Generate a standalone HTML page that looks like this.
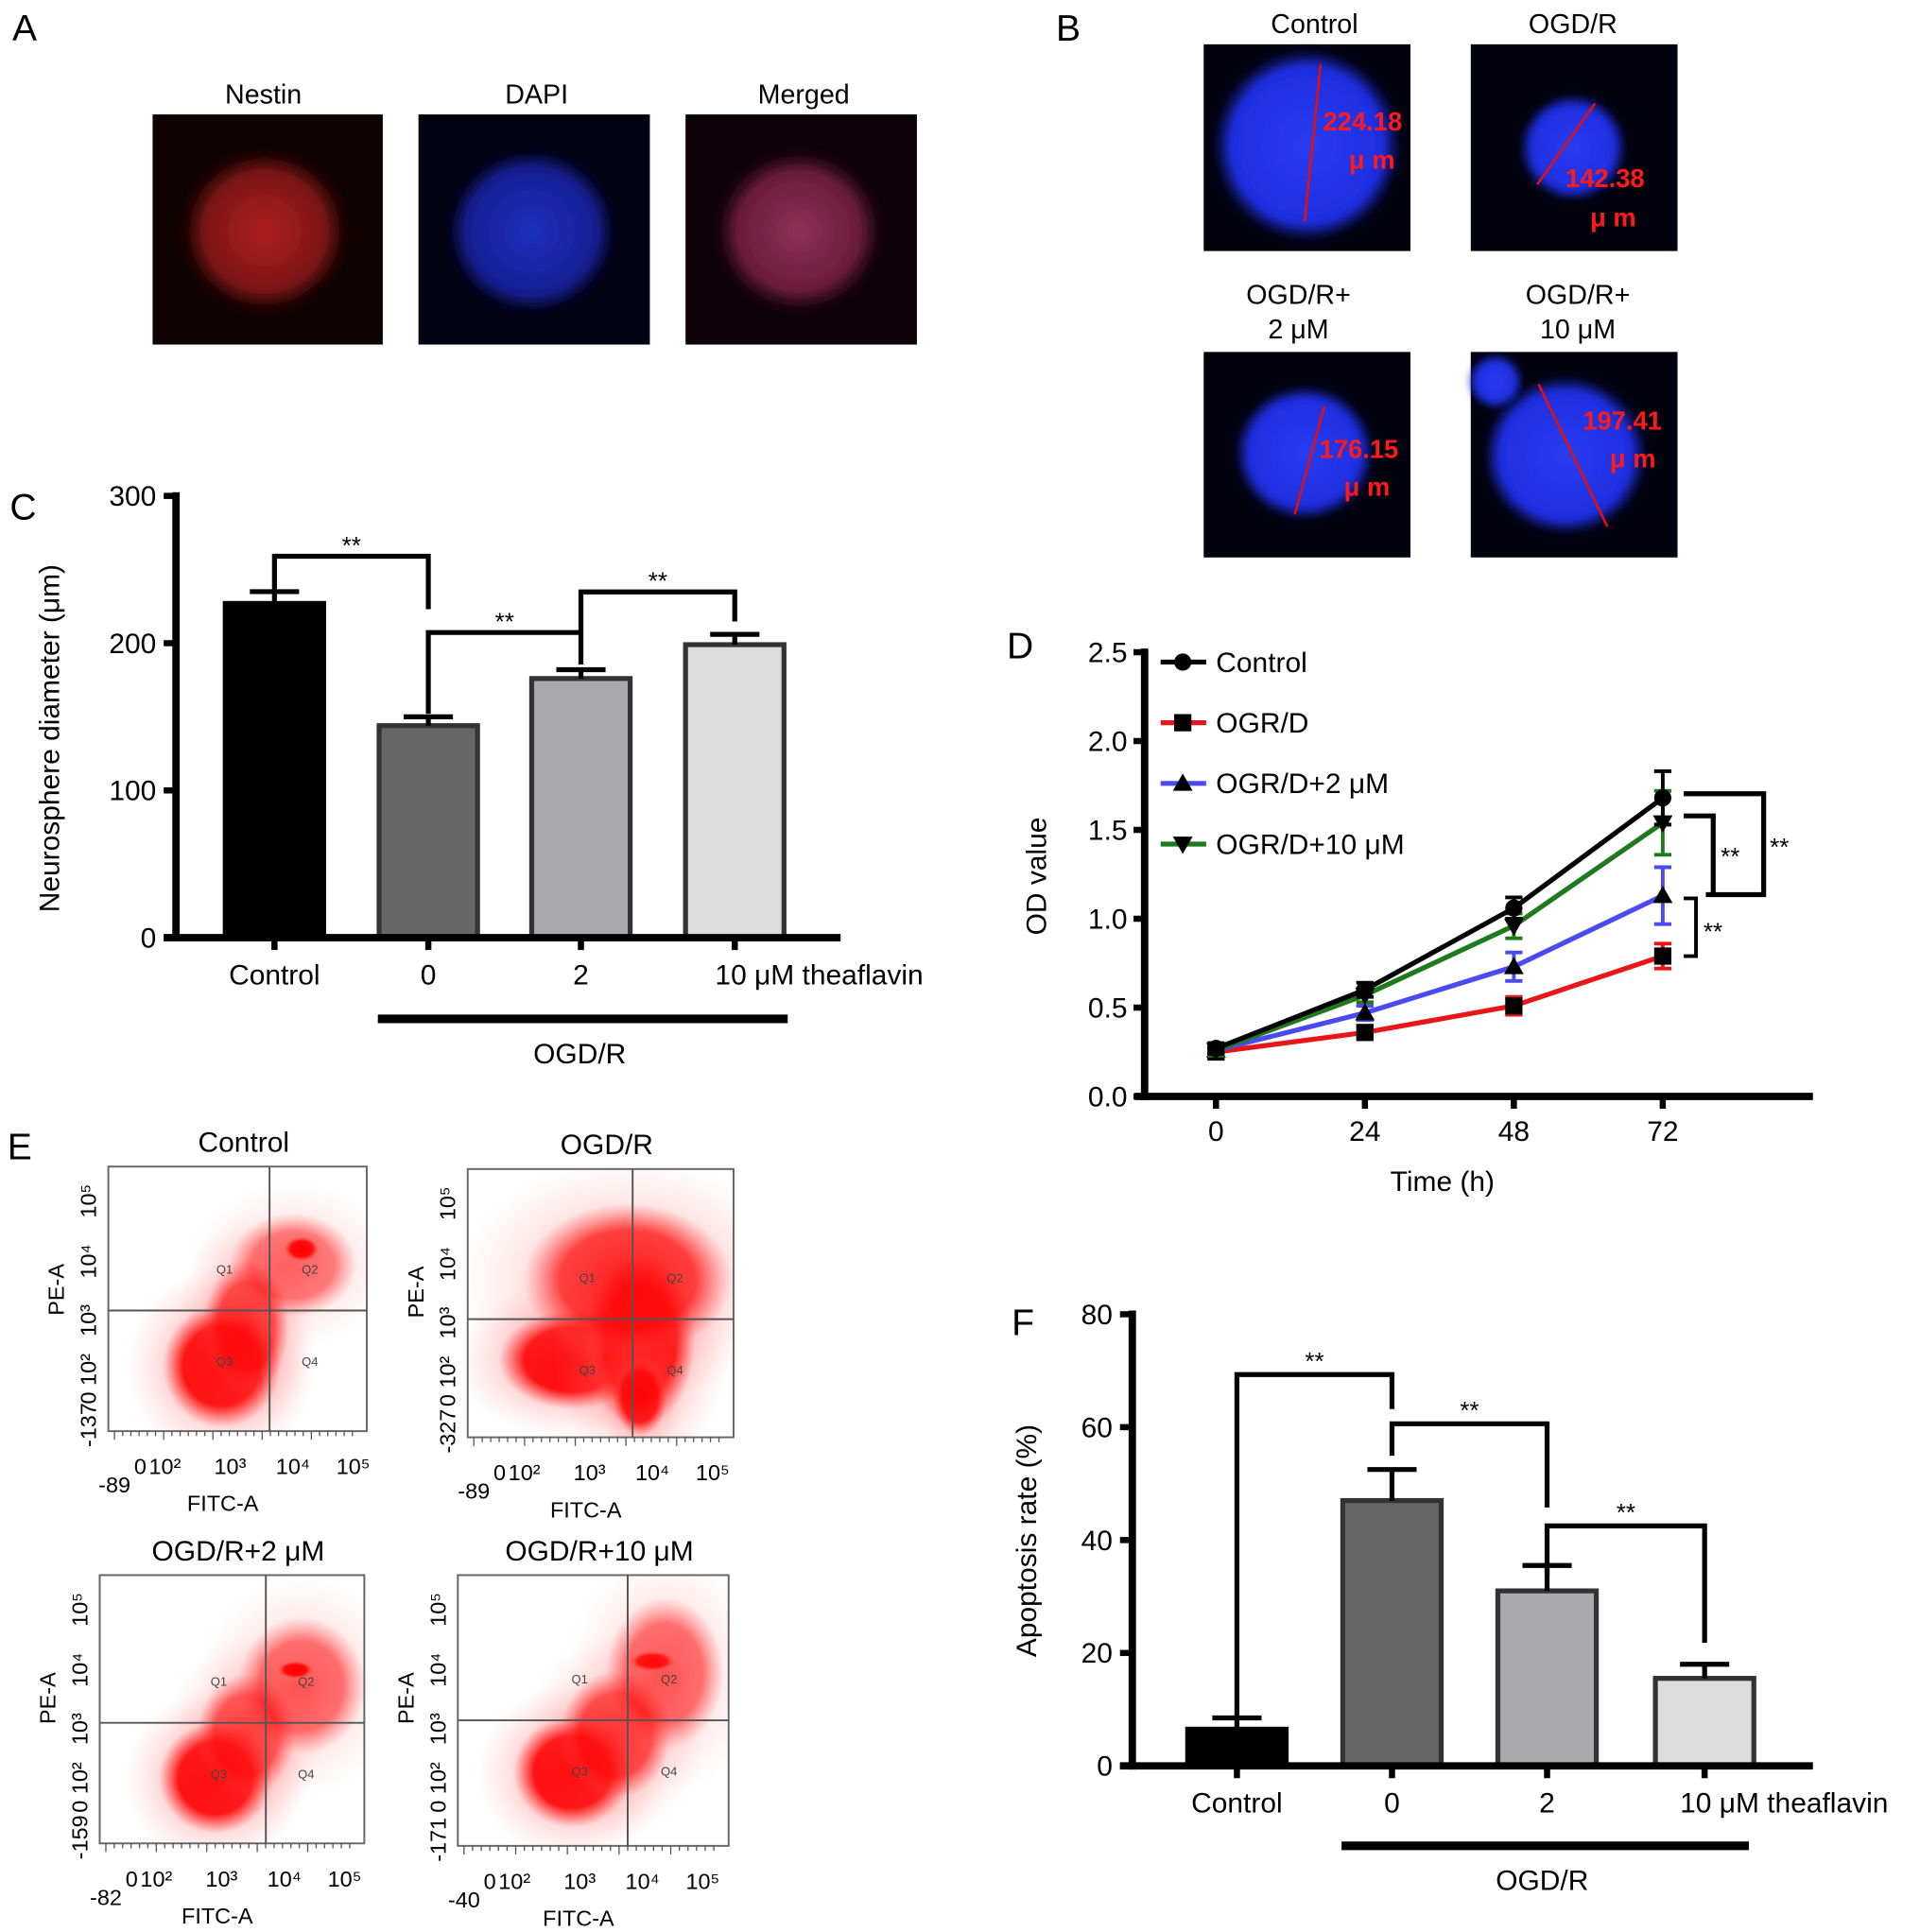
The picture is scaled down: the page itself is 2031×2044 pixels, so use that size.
<!DOCTYPE html>
<html><head><meta charset="utf-8"><style>
html,body{margin:0;padding:0;background:#fff;}
svg{display:block;font-family:"Liberation Sans",Arial,sans-serif;}
</style></head><body>
<svg id="fig" width="2031" height="2044" viewBox="0 0 1560 1570" xmlns="http://www.w3.org/2000/svg">
<defs>
<filter id="blur3"><feGaussianBlur stdDeviation="3"/></filter>
<radialGradient id="redblob"><stop offset="0" stop-color="#b02020"/><stop offset="0.7" stop-color="#7a1515"/><stop offset="1" stop-color="#200404" stop-opacity="0"/></radialGradient>
<radialGradient id="blueblob"><stop offset="0" stop-color="#2030c0"/><stop offset="0.75" stop-color="#161e90"/><stop offset="1" stop-color="#05052a" stop-opacity="0"/></radialGradient>
<radialGradient id="mergeblob"><stop offset="0" stop-color="#903058"/><stop offset="0.7" stop-color="#6a1c38"/><stop offset="1" stop-color="#200410" stop-opacity="0"/></radialGradient>
<radialGradient id="bblue"><stop offset="0" stop-color="#2a3cf0"/><stop offset="0.8" stop-color="#1e2ee0"/><stop offset="1" stop-color="#0a1060" stop-opacity="0"/></radialGradient>
<radialGradient id="flowdense"><stop offset="0" stop-color="#ff0000"/><stop offset="0.65" stop-color="#ff0808" stop-opacity="0.95"/><stop offset="1" stop-color="#ff4040" stop-opacity="0"/></radialGradient>
<radialGradient id="flowsparse"><stop offset="0" stop-color="#ff3030" stop-opacity="0.6"/><stop offset="1" stop-color="#ff8080" stop-opacity="0"/></radialGradient>
</defs>

<!-- Panel A -->
<text x="10" y="33" font-size="30">A</text>
<g>
<rect x="124" y="93" width="187" height="187" fill="#0e0202"/>
<ellipse cx="215" cy="188" rx="72" ry="70" fill="url(#redblob)" filter="url(#blur3)"/>
</g>
<g>
<rect x="340" y="93" width="188" height="187" fill="#020210"/>
<ellipse cx="432" cy="188" rx="72" ry="70" fill="url(#blueblob)" filter="url(#blur3)"/>
</g>
<g>
<rect x="557" y="93" width="188" height="187" fill="#0c0208"/>
<ellipse cx="649" cy="188" rx="72" ry="70" fill="url(#mergeblob)" filter="url(#blur3)"/>
</g>
<text x="214" y="84" font-size="22" text-anchor="middle">Nestin</text>
<text x="436" y="84" font-size="22" text-anchor="middle">DAPI</text>
<text x="653" y="84" font-size="22" text-anchor="middle">Merged</text>

<!-- Panel B -->
<text x="858" y="33" font-size="30">B</text>
<text x="1068" y="27" font-size="22" text-anchor="middle">Control</text>
<text x="1278" y="27" font-size="22" text-anchor="middle">OGD/R</text>
<text x="1055" y="247" font-size="22" text-anchor="middle">OGD/R+</text>
<text x="1055" y="275" font-size="22" text-anchor="middle">2 μM</text>
<text x="1282" y="247" font-size="22" text-anchor="middle">OGD/R+</text>
<text x="1282" y="275" font-size="22" text-anchor="middle">10 μM</text>
<g>
<rect x="978" y="36" width="168" height="168" fill="#02020e"/>
<ellipse cx="1062" cy="118" rx="78" ry="80" fill="url(#bblue)" filter="url(#blur3)"/>
<line x1="1073" y1="52" x2="1060" y2="180" stroke="#e01010" stroke-width="2"/>
<text x="1075" y="106" font-size="21" font-weight="bold" fill="#ff1a1a">224.18</text>
<text x="1096" y="137" font-size="21" font-weight="bold" fill="#ff1a1a">μ m</text>
</g>
<g>
<rect x="1195" y="36" width="168" height="168" fill="#02020e"/>
<ellipse cx="1278" cy="120" rx="44" ry="44" fill="url(#bblue)" filter="url(#blur3)"/>
<line x1="1296" y1="84" x2="1249" y2="150" stroke="#e01010" stroke-width="2"/>
<text x="1272" y="152" font-size="21" font-weight="bold" fill="#ff1a1a">142.38</text>
<text x="1292" y="184" font-size="21" font-weight="bold" fill="#ff1a1a">μ m</text>
</g>
<g>
<rect x="978" y="286" width="168" height="167" fill="#02020e"/>
<ellipse cx="1060" cy="368" rx="58" ry="56" fill="url(#bblue)" filter="url(#blur3)"/>
<line x1="1076" y1="330" x2="1052" y2="418" stroke="#e01010" stroke-width="2"/>
<text x="1072" y="372" font-size="21" font-weight="bold" fill="#ff1a1a">176.15</text>
<text x="1092" y="403" font-size="21" font-weight="bold" fill="#ff1a1a">μ m</text>
</g>
<g>
<rect x="1195" y="286" width="168" height="167" fill="#02020e"/>
<ellipse cx="1272" cy="370" rx="68" ry="66" fill="url(#bblue)" filter="url(#blur3)"/>
<ellipse cx="1215" cy="310" rx="22" ry="22" fill="url(#bblue)" filter="url(#blur3)"/>
<line x1="1250" y1="312" x2="1306" y2="428" stroke="#e01010" stroke-width="2"/>
<text x="1286" y="349" font-size="21" font-weight="bold" fill="#ff1a1a">197.41</text>
<text x="1308" y="380" font-size="21" font-weight="bold" fill="#ff1a1a">μ m</text>
</g>

<!-- Panel C -->
<text x="8" y="422" font-size="30">C</text>
<g id="chartC"></g>
<!-- Panel D -->
<text x="818" y="535" font-size="30">D</text>
<g id="chartD"></g>
<!-- Panel F -->
<text x="822" y="1085" font-size="30">F</text>
<g id="chartF"></g>

<!-- Panel E -->
<text x="6" y="942" font-size="30">E</text>
<g id="panelE"></g>
</svg>

<script>
var NS="http://www.w3.org/2000/svg";
function mk(parent,tag,attrs,text){var e=document.createElementNS(NS,tag);for(var k in attrs)e.setAttribute(k,attrs[k]);if(text!==undefined)e.textContent=text;parent.appendChild(e);return e;}

// ---------- Chart C data ----------
var cCategories=["Control","0","2","10 μM theaflavin"];
var cValues=[227,144,176,199];
var cErrors=[8,6,6,7];
var cTicks=[0,100,200,300];
var cFills=["#000000","#666666","#a9a9ae","#dcdcdc"];

// ---------- Chart D data ----------
var dTimes=[0,24,48,72];
var dSeriesNames=["Control","OGR/D","OGR/D+2 μM","OGR/D+10 μM"];
var dControl=[0.27,0.60,1.06,1.68];
var dOGR=[0.25,0.36,0.51,0.79];
var dLow=[0.26,0.47,0.73,1.13];
var dHigh=[0.26,0.57,0.96,1.54];
var dControlErr=[0.03,0.04,0.06,0.15];
var dOGRErr=[0.03,0.03,0.05,0.07];
var dLowErr=[0.03,0.04,0.08,0.16];
var dHighErr=[0.03,0.04,0.07,0.18];
var dTicks=[0.0,0.5,1.0,1.5,2.0,2.5];

// ---------- Chart F data ----------
var fCategories=["Control","0","2","10 μM theaflavin"];
var fValues=[6.5,47,31,15.5];
var fErrors=[2,5.5,4.5,2.5];
var fTicks=[0,20,40,60,80];

// ================= Chart C =================
(function(){
var g=document.getElementById('chartC');
var x0=143,x1=683,yb=762,yt=403,vmax=300;
function y(v){return yb-(v/vmax)*(yb-yt);}
var centers=[223,348,472,597];
var bw=80;
cValues.forEach(function(v,i){
  var r=mk(g,'rect',{x:centers[i]-bw/2,y:y(v),width:bw,height:yb-y(v),fill:cFills[i],stroke:i==0?'#000':'#333','stroke-width':4});
  
  
  var e=mk(g,'path',{d:'M'+centers[i]+' '+y(v)+' V'+y(v+cErrors[i])+' M'+(centers[i]-20)+' '+y(v+cErrors[i])+' H'+(centers[i]+20),stroke:'#000','stroke-width':4,fill:'none'});
  
  
  var t=mk(g,'text',{x:i==3?centers[i]-16:centers[i],y:800,'font-size':23,'text-anchor':i==3?'start':'middle'},cCategories[i]);
  
  
  mk(g,'line',{x1:centers[i],y1:yb,x2:centers[i],y2:yb+10,stroke:'#000','stroke-width':5});
});
mk(g,'line',{x1:x0,y1:yt-3,x2:x0,y2:yb+3,stroke:'#000','stroke-width':6});
mk(g,'line',{x1:x0-10,y1:yb,x2:x1,y2:yb,stroke:'#000','stroke-width':6});
cTicks.forEach(function(t){
  mk(g,'line',{x1:x0-10,y1:y(t),x2:x0,y2:y(t),stroke:'#000','stroke-width':5});
  var tl=mk(g,'text',{x:x0-16,y:y(t)+8,'font-size':23,'text-anchor':'end'},String(t));
  
  
});
var yl=mk(g,'text',{x:0,y:0,'font-size':23,'text-anchor':'middle',transform:'translate(48,600) rotate(-90)'},'Neurosphere diameter (μm)');


mk(g,'line',{x1:307,y1:828,x2:640,y2:828,stroke:'#000','stroke-width':7});
var og=mk(g,'text',{x:471,y:864,'font-size':23,'text-anchor':'middle'},'OGD/R');


var br=[[223,348,452,482,495],[348,472,514,580,540],[472,597,481,513,505]];
br.forEach(function(b,i){
  mk(g,'path',{d:'M'+b[0]+' '+b[3]+' V'+b[2]+' H'+b[1]+' V'+b[4],stroke:'#000','stroke-width':4,fill:'none'});
  var s=mk(g,'text',{x:(b[0]+b[1])/2,y:b[2]-2,'font-size':20,'text-anchor':'middle'},'**');
  
  
});
})();

// ================= Chart D =================
(function(){
var g=document.getElementById('chartD');
var x0=930,x1=1473,yb=891,yt=530,vmax=2.5;
function y(v){return yb-(v/vmax)*(yb-yt);}
function x(t){return 988+t*(1351-988)/72;}
mk(g,'line',{x1:x0,y1:yt-3,x2:x0,y2:yb+3,stroke:'#000','stroke-width':6});
mk(g,'line',{x1:x0-8,y1:yb,x2:x1,y2:yb,stroke:'#000','stroke-width':6});
dTicks.forEach(function(t){
  mk(g,'line',{x1:x0-9,y1:y(t),x2:x0,y2:y(t),stroke:'#000','stroke-width':5});
  var tl=mk(g,'text',{x:x0-14,y:y(t)+8,'font-size':23,'text-anchor':'end'},t.toFixed(1));
  
  
});
dTimes.forEach(function(t){
  mk(g,'line',{x1:x(t),y1:yb,x2:x(t),y2:yb+10,stroke:'#000','stroke-width':5});
  var tl=mk(g,'text',{x:x(t),y:927,'font-size':23,'text-anchor':'middle'},String(t));
  
  
});
var xt=mk(g,'text',{x:1172,y:968,'font-size':23,'text-anchor':'middle'},'Time (h)');


var yl=mk(g,'text',{x:0,y:0,'font-size':23,'text-anchor':'middle',transform:'translate(850,712) rotate(-90)'},'OD value');


var series=[[dOGR,dOGRErr,'#e8161b','square'],[dLow,dLowErr,'#4a4af0','tri'],[dHigh,dHighErr,'#1f7a1f','itri'],[dControl,dControlErr,'#000000','circle']];
function marker(gg,cx,cy,kind){
  if(kind=='circle')return mk(gg,'circle',{cx:cx,cy:cy,r:7,fill:'#000'});
  if(kind=='square')return mk(gg,'rect',{x:cx-7,y:cy-7,width:14,height:14,fill:'#000'});
  if(kind=='tri')return mk(gg,'path',{d:'M'+cx+' '+(cy-8)+' L'+(cx+8)+' '+(cy+6)+' L'+(cx-8)+' '+(cy+6)+'Z',fill:'#000'});
  return mk(gg,'path',{d:'M'+cx+' '+(cy+8)+' L'+(cx+8)+' '+(cy-6)+' L'+(cx-8)+' '+(cy-6)+'Z',fill:'#000'});
}
series.forEach(function(s,si){
  var vals=s[0],errs=s[1],col=s[2];
  var d=vals.map(function(v,i){return (i?'L':'M')+x(dTimes[i])+' '+y(v);}).join(' ');
  var p=mk(g,'path',{d:d,stroke:col,'stroke-width':4,fill:'none'});
  
  
  vals.forEach(function(v,i){
    var cx=x(dTimes[i]);
    mk(g,'path',{d:'M'+cx+' '+y(v-errs[i])+' V'+y(v+errs[i])+' M'+(cx-7)+' '+y(v-errs[i])+' H'+(cx+7)+' M'+(cx-7)+' '+y(v+errs[i])+' H'+(cx+7),stroke:col,'stroke-width':3,fill:'none'});
    var m=marker(g,cx,y(v),s[3]);
    
    
  });
});
var leg=[['Control','#000','circle'],['OGR/D','#e8161b','square'],['OGR/D+2 μM','#4a4af0','tri'],['OGR/D+10 μM','#1f7a1f','itri']];
leg.forEach(function(l,i){
  var ly=538+i*49.3;
  var lg=mk(g,'g',{});
  
  
  mk(lg,'line',{x1:943,y1:ly,x2:980,y2:ly,stroke:l[1],'stroke-width':4});
  marker(lg,961,ly,l[2]);
  mk(lg,'text',{x:988,y:ly+8,'font-size':23},l[0]);
});
mk(g,'path',{d:'M1368 645 H1433 V727 H1386',stroke:'#000','stroke-width':4,fill:'none'});
mk(g,'path',{d:'M1368 663 H1392 V727',stroke:'#000','stroke-width':4,fill:'none'});
mk(g,'path',{d:'M1368 730 H1378 V777 H1368',stroke:'#000','stroke-width':3,fill:'none'});
var s1=mk(g,'text',{x:1438,y:695,'font-size':20},'**');
var s2=mk(g,'text',{x:1398,y:703,'font-size':20},'**');
var s3=mk(g,'text',{x:1384,y:764,'font-size':20},'**');
})();

// ================= Chart F =================
(function(){
var g=document.getElementById('chartF');
var x0=920,x1=1473,yb=1435,yt=1068,vmax=80;
function y(v){return yb-(v/vmax)*(yb-yt);}
var centers=[1005,1131,1257,1385];
var bw=80;
fValues.forEach(function(v,i){
  var r=mk(g,'rect',{x:centers[i]-bw/2,y:y(v),width:bw,height:yb-y(v),fill:cFills[i],stroke:i==0?'#000':'#333','stroke-width':4});
  
  
  var e=mk(g,'path',{d:'M'+centers[i]+' '+y(v)+' V'+y(v+fErrors[i])+' M'+(centers[i]-20)+' '+y(v+fErrors[i])+' H'+(centers[i]+20),stroke:'#000','stroke-width':4,fill:'none'});
  
  
  var t=mk(g,'text',{x:i==3?centers[i]-20:centers[i],y:1473,'font-size':23,'text-anchor':i==3?'start':'middle'},fCategories[i]);
  
  
  mk(g,'line',{x1:centers[i],y1:yb,x2:centers[i],y2:yb+10,stroke:'#000','stroke-width':5});
});
mk(g,'line',{x1:x0,y1:yt-3,x2:x0,y2:yb+3,stroke:'#000','stroke-width':6});
mk(g,'line',{x1:x0-10,y1:yb,x2:x1,y2:yb,stroke:'#000','stroke-width':6});
fTicks.forEach(function(t){
  mk(g,'line',{x1:x0-10,y1:y(t),x2:x0,y2:y(t),stroke:'#000','stroke-width':5});
  var tl=mk(g,'text',{x:x0-16,y:y(t)+8,'font-size':23,'text-anchor':'end'},String(t));
  
  
});
var yl=mk(g,'text',{x:0,y:0,'font-size':23,'text-anchor':'middle',transform:'translate(842,1252) rotate(-90)'},'Apoptosis rate (%)');


mk(g,'line',{x1:1090,y1:1500,x2:1421,y2:1500,stroke:'#000','stroke-width':7});
var og=mk(g,'text',{x:1253,y:1536,'font-size':23,'text-anchor':'middle'},'OGD/R');


var br=[[1005,1131,1117,1395,1145],[1131,1257,1157,1183,1225],[1257,1385,1240,1280,1335]];
br.forEach(function(b,i){
  mk(g,'path',{d:'M'+b[0]+' '+b[3]+' V'+b[2]+' H'+b[1]+' V'+b[4],stroke:'#000','stroke-width':4,fill:'none'});
  var s=mk(g,'text',{x:(b[0]+b[1])/2,y:b[2]-4,'font-size':20,'text-anchor':'middle'},'**');
  
  
});
})();

// ================= Panel E =================
(function(){
var g=document.getElementById('panelE');
var plots=[
 {t:'Control',x:88,y:948,w:210,h:215,vx:219,hy:1065,xl:'-89',yl:'-137',blobs:[[180,1110,48,50,1],[200,1078,35,55,0.7],[238,1028,52,42,0.5],[245,1015,14,10,1]]},
 {t:'OGD/R',x:380,y:950,w:216,h:218,vx:514,hy:1072,xl:'-89',yl:'-327',blobs:[[465,1105,60,40,1],[520,1090,45,70,1],[510,1040,85,62,0.75],[520,1135,22,32,0.9]]},
 {t:'OGD/R+2 μM',x:81,y:1280,w:215,h:218,vx:216,hy:1400,xl:'-82',yl:'-159',blobs:[[175,1445,46,45,1],[200,1410,40,50,0.65],[245,1370,52,56,0.55],[240,1357,14,7,1]]},
 {t:'OGD/R+10 μM',x:372,y:1280,w:220,h:220,vx:510,hy:1398,xl:'-40',yl:'-171',blobs:[[465,1440,48,45,1],[500,1410,45,52,0.7],[540,1360,48,62,0.55],[530,1350,18,8,0.9]]}
];
plots.forEach(function(p,i){
  var pg=mk(g,'g',{});
  
  
  var tt=mk(pg,'text',{x:p.x+p.w/2+5,y:p.y-12,'font-size':23,'text-anchor':'middle'},p.t);
  
  
  var cp='cp'+i;
  var c=mk(pg,'clipPath',{id:cp});mk(c,'rect',{x:p.x,y:p.y,width:p.w,height:p.h});
  var dg=mk(pg,'g',{'clip-path':'url(#'+cp+')'});
  p.blobs.forEach(function(b){
    mk(dg,'ellipse',{cx:b[0],cy:b[1],rx:b[2]*1.6,ry:b[3]*1.6,fill:'url(#flowsparse)',opacity:b[4]});
    mk(dg,'ellipse',{cx:b[0],cy:b[1],rx:b[2],ry:b[3],fill:'url(#flowdense)',opacity:b[4]});
  });
  mk(pg,'rect',{x:p.x,y:p.y,width:p.w,height:p.h,fill:'none',stroke:'#666','stroke-width':1.5});
  mk(pg,'line',{x1:p.vx,y1:p.y,x2:p.vx,y2:p.y+p.h,stroke:'#555','stroke-width':1.5});
  mk(pg,'line',{x1:p.x,y1:p.hy,x2:p.x+p.w,y2:p.hy,stroke:'#555','stroke-width':1.5});
  [['Q1',p.x+p.w*0.45,p.hy-30],['Q2',p.x+p.w*0.78,p.hy-30],['Q3',p.x+p.w*0.45,p.hy+45],['Q4',p.x+p.w*0.78,p.hy+45]].forEach(function(q){mk(pg,'text',{x:q[1],y:q[2],'font-size':10,fill:'#444','text-anchor':'middle'},q[0]);});
  for(var k=0;k<30;k++){mk(pg,'line',{x1:p.x+5+k*(p.w-10)/30,y1:p.y+p.h,x2:p.x+5+k*(p.w-10)/30,y2:p.y+p.h+(k%6==0?7:4),stroke:'#555','stroke-width':1});}
  var xl=p.x,yb=p.y+p.h;
  var lbl=[[p.xl,xl+5,yb+50],['0',xl+26,yb+35],['10²',xl+46,yb+35],['10³',xl+99,yb+35],['10⁴',xl+150,yb+35],['10⁵',xl+199,yb+35]];
  lbl.forEach(function(l){var t=mk(pg,'text',{x:l[1],y:l[2],'font-size':18,'text-anchor':'middle'},l[0]);});
  var yls=[['10⁵',p.y+28],['10⁴',p.y+77],['10³',p.y+125],['10²',p.y+165],['0',p.y+188],[p.yl,p.y+p.h-5]];
  yls.forEach(function(l){var t=mk(pg,'text',{x:0,y:0,'font-size':18,'text-anchor':'middle',transform:'translate('+(p.x-10)+','+l[1]+') rotate(-90)'},l[0]);});
  var fx=mk(pg,'text',{x:p.x+p.w/2-12,y:yb+65,'font-size':18,'text-anchor':'middle'},'FITC-A');
  
  var fy=mk(pg,'text',{x:0,y:0,'font-size':18,'text-anchor':'middle',transform:'translate('+(p.x-36)+','+(p.y+100)+') rotate(-90)'},'PE-A');
  
});
})();
</script>
</body></html>
